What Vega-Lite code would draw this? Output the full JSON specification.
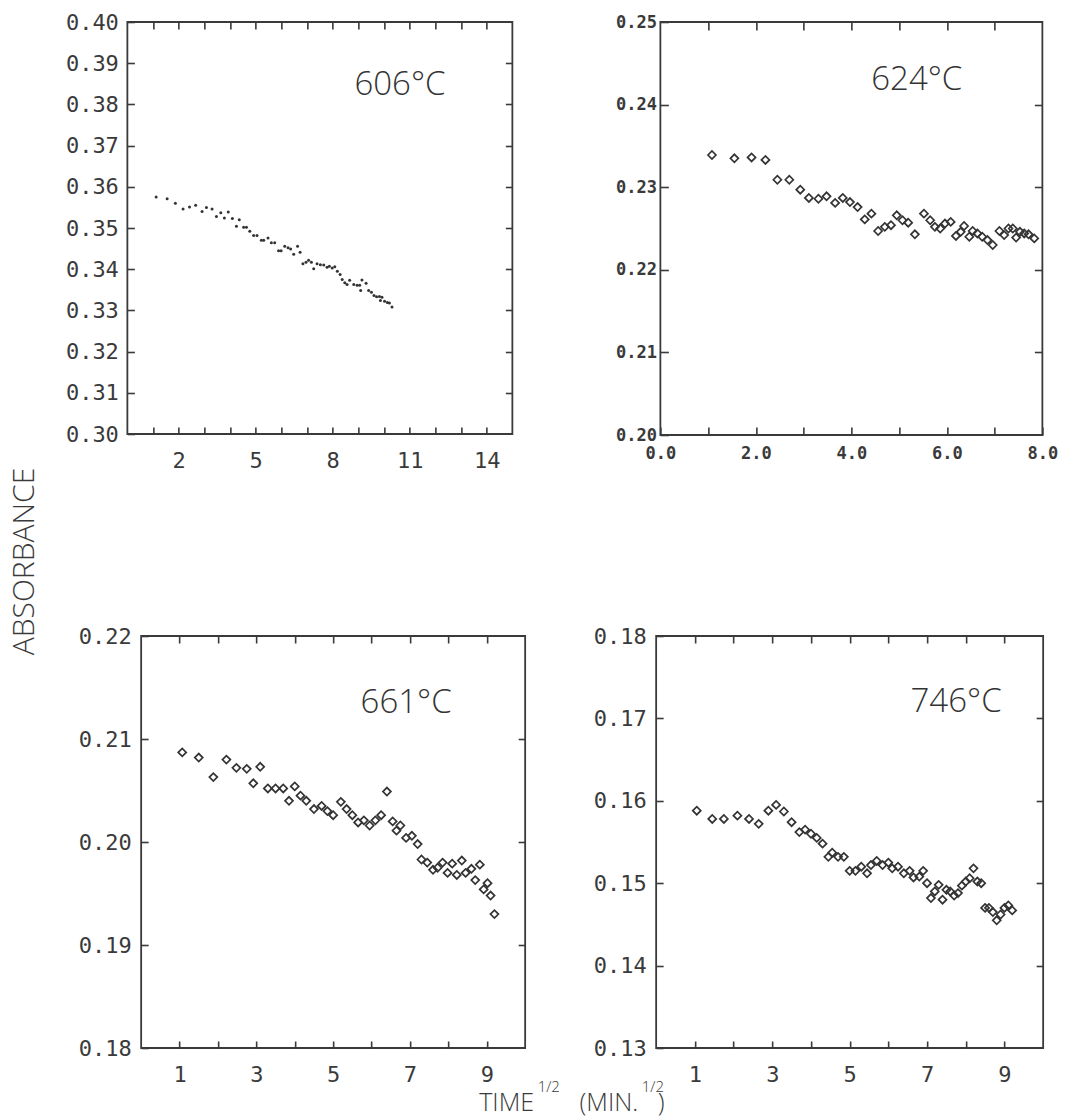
{
  "$schema": "https://vega.github.io/schema/vega-lite/v6.json",
  "padding": {"left": 10, "top": 7, "right": 0, "bottom": 0},
  "background": "white",
  "title": {"text": "ABSORBANCE", "orient": "left", "anchor": "middle", "offset": 16, "font": "Open Sans", "fontSize": 30, "fontWeight": 300, "color": "#3a3a3a"},
  "datasets": {
    "d606": [
      {"t":1.12,"a":0.3575},{"t":1.55,"a":0.3571},{"t":1.87,"a":0.3560},{"t":2.17,"a":0.3546},{"t":2.42,"a":0.3551},{"t":2.66,"a":0.3555},{"t":2.91,"a":0.3540},{"t":3.08,"a":0.3550},{"t":3.30,"a":0.3546},{"t":3.47,"a":0.3528},{"t":3.64,"a":0.3537},{"t":3.78,"a":0.3524},{"t":3.93,"a":0.3539},{"t":4.09,"a":0.3523},{"t":4.25,"a":0.3504},{"t":4.36,"a":0.3520},{"t":4.53,"a":0.3502},{"t":4.64,"a":0.3502},{"t":4.77,"a":0.3492},{"t":4.92,"a":0.3482},{"t":5.05,"a":0.3482},{"t":5.22,"a":0.3470},{"t":5.31,"a":0.3470},{"t":5.48,"a":0.3476},{"t":5.61,"a":0.3464},{"t":5.74,"a":0.3464},{"t":5.89,"a":0.3445},{"t":5.99,"a":0.3445},{"t":6.13,"a":0.3456},{"t":6.26,"a":0.3452},{"t":6.36,"a":0.3449},{"t":6.48,"a":0.3436},{"t":6.63,"a":0.3456},{"t":6.73,"a":0.3441},{"t":6.84,"a":0.3413},{"t":6.96,"a":0.3417},{"t":7.06,"a":0.3422},{"t":7.17,"a":0.3417},{"t":7.26,"a":0.3401},{"t":7.39,"a":0.3413},{"t":7.52,"a":0.3411},{"t":7.65,"a":0.3410},{"t":7.78,"a":0.3405},{"t":7.87,"a":0.3407},{"t":7.98,"a":0.3403},{"t":8.08,"a":0.3406},{"t":8.18,"a":0.3395},{"t":8.29,"a":0.3387},{"t":8.37,"a":0.3375},{"t":8.47,"a":0.3367},{"t":8.56,"a":0.3363},{"t":8.66,"a":0.3373},{"t":8.82,"a":0.3363},{"t":8.95,"a":0.3361},{"t":9.05,"a":0.3361},{"t":9.09,"a":0.3348},{"t":9.14,"a":0.3374},{"t":9.30,"a":0.3366},{"t":9.40,"a":0.3348},{"t":9.51,"a":0.3344},{"t":9.61,"a":0.3336},{"t":9.71,"a":0.3333},{"t":9.82,"a":0.3334},{"t":9.86,"a":0.3324},{"t":9.92,"a":0.3332},{"t":10.02,"a":0.3322},{"t":10.13,"a":0.3319},{"t":10.21,"a":0.3318},{"t":10.31,"a":0.3308}
    ],
    "d624": [
      {"t":1.08,"a":0.2339},{"t":1.55,"a":0.2335},{"t":1.91,"a":0.2336},{"t":2.20,"a":0.2333},{"t":2.45,"a":0.2309},{"t":2.70,"a":0.2309},{"t":2.93,"a":0.2297},{"t":3.11,"a":0.2287},{"t":3.31,"a":0.2286},{"t":3.48,"a":0.2289},{"t":3.66,"a":0.2281},{"t":3.82,"a":0.2287},{"t":3.97,"a":0.2282},{"t":4.13,"a":0.2276},{"t":4.28,"a":0.2261},{"t":4.42,"a":0.2268},{"t":4.56,"a":0.2247},{"t":4.70,"a":0.2252},{"t":4.83,"a":0.2254},{"t":4.95,"a":0.2266},{"t":5.07,"a":0.2260},{"t":5.19,"a":0.2257},{"t":5.33,"a":0.2243},{"t":5.52,"a":0.2268},{"t":5.65,"a":0.2260},{"t":5.75,"a":0.2252},{"t":5.86,"a":0.2250},{"t":5.96,"a":0.2256},{"t":6.08,"a":0.2258},{"t":6.19,"a":0.2241},{"t":6.29,"a":0.2246},{"t":6.36,"a":0.2253},{"t":6.47,"a":0.2240},{"t":6.54,"a":0.2247},{"t":6.64,"a":0.2244},{"t":6.74,"a":0.2240},{"t":6.85,"a":0.2236},{"t":6.96,"a":0.2230},{"t":7.10,"a":0.2247},{"t":7.20,"a":0.2242},{"t":7.29,"a":0.2250},{"t":7.38,"a":0.2250},{"t":7.45,"a":0.2239},{"t":7.53,"a":0.2246},{"t":7.62,"a":0.2244},{"t":7.71,"a":0.2243},{"t":7.83,"a":0.2238}
    ],
    "d661": [
      {"t":1.07,"a":0.2087},{"t":1.50,"a":0.2082},{"t":1.88,"a":0.2063},{"t":2.22,"a":0.2080},{"t":2.48,"a":0.2072},{"t":2.75,"a":0.2071},{"t":2.92,"a":0.2057},{"t":3.10,"a":0.2073},{"t":3.30,"a":0.2052},{"t":3.50,"a":0.2052},{"t":3.70,"a":0.2052},{"t":3.85,"a":0.2040},{"t":4.00,"a":0.2054},{"t":4.15,"a":0.2045},{"t":4.30,"a":0.2040},{"t":4.50,"a":0.2032},{"t":4.70,"a":0.2035},{"t":4.85,"a":0.2030},{"t":5.00,"a":0.2026},{"t":5.20,"a":0.2039},{"t":5.35,"a":0.2032},{"t":5.50,"a":0.2026},{"t":5.65,"a":0.2019},{"t":5.80,"a":0.2021},{"t":5.95,"a":0.2016},{"t":6.10,"a":0.2021},{"t":6.25,"a":0.2026},{"t":6.40,"a":0.2049},{"t":6.55,"a":0.2020},{"t":6.65,"a":0.2011},{"t":6.75,"a":0.2016},{"t":6.90,"a":0.2004},{"t":7.05,"a":0.2006},{"t":7.20,"a":0.1998},{"t":7.30,"a":0.1983},{"t":7.45,"a":0.1980},{"t":7.60,"a":0.1973},{"t":7.72,"a":0.1975},{"t":7.85,"a":0.1980},{"t":7.98,"a":0.1970},{"t":8.10,"a":0.1979},{"t":8.22,"a":0.1968},{"t":8.35,"a":0.1982},{"t":8.45,"a":0.1970},{"t":8.60,"a":0.1974},{"t":8.70,"a":0.1963},{"t":8.82,"a":0.1978},{"t":8.92,"a":0.1954},{"t":9.02,"a":0.1960},{"t":9.10,"a":0.1948},{"t":9.20,"a":0.1930}
    ],
    "d746": [
      {"t":1.05,"a":0.1588},{"t":1.45,"a":0.1578},{"t":1.75,"a":0.1578},{"t":2.10,"a":0.1582},{"t":2.40,"a":0.1578},{"t":2.65,"a":0.1572},{"t":2.90,"a":0.1588},{"t":3.10,"a":0.1595},{"t":3.30,"a":0.1587},{"t":3.50,"a":0.1574},{"t":3.70,"a":0.1562},{"t":3.85,"a":0.1565},{"t":4.00,"a":0.1560},{"t":4.15,"a":0.1555},{"t":4.30,"a":0.1548},{"t":4.45,"a":0.1532},{"t":4.55,"a":0.1537},{"t":4.70,"a":0.1532},{"t":4.85,"a":0.1532},{"t":5.00,"a":0.1515},{"t":5.15,"a":0.1515},{"t":5.30,"a":0.1520},{"t":5.45,"a":0.1512},{"t":5.55,"a":0.1522},{"t":5.70,"a":0.1527},{"t":5.85,"a":0.1522},{"t":6.00,"a":0.1525},{"t":6.10,"a":0.1518},{"t":6.25,"a":0.1520},{"t":6.40,"a":0.1512},{"t":6.55,"a":0.1515},{"t":6.65,"a":0.1507},{"t":6.80,"a":0.1508},{"t":6.90,"a":0.1515},{"t":7.00,"a":0.1500},{"t":7.10,"a":0.1482},{"t":7.20,"a":0.1490},{"t":7.30,"a":0.1498},{"t":7.40,"a":0.1480},{"t":7.50,"a":0.1492},{"t":7.60,"a":0.1490},{"t":7.70,"a":0.1485},{"t":7.80,"a":0.1488},{"t":7.90,"a":0.1497},{"t":8.00,"a":0.1502},{"t":8.10,"a":0.1506},{"t":8.20,"a":0.1518},{"t":8.30,"a":0.1502},{"t":8.40,"a":0.1500},{"t":8.50,"a":0.1470},{"t":8.60,"a":0.1470},{"t":8.70,"a":0.1465},{"t":8.80,"a":0.1455},{"t":8.90,"a":0.1462},{"t":9.00,"a":0.1470},{"t":9.10,"a":0.1473},{"t":9.20,"a":0.1467}
    ]
  },
  "spacing": 140,
  "center": true,
  "vconcat": [
    {
      "spacing": 20,
      "hconcat": [
        {
          "width": 385, "height": 412,
          "layer": [
            {
              "data": {"name": "d606"},
              "mark": {"type": "point", "shape": "circle", "filled": true, "size": 9, "color": "#333", "opacity": 1},
              "encoding": {
                "x": {"field": "t", "type": "quantitative", "scale": {"domain": [0, 15], "nice": false, "zero": false},
                      "axis": {"orient": "bottom", "title": null, "values": [1,2,3,4,5,6,7,8,9,10,11,12,13,14], "labelExpr": "indexof([2,5,8,11,14], datum.value) >= 0 ? datum.label : ''", "tickSize": -7, "labelPadding": 23, "labelFont": "DejaVu Sans Mono", "labelFontSize": 22, "labelFlush": false, "labelOverlap": false, "minExtent": 45, "maxExtent": 45}},
                "y": {"field": "a", "type": "quantitative", "scale": {"domain": [0.30, 0.40], "nice": false, "zero": false},
                      "axis": {"orient": "left", "title": null, "values": [0.30,0.31,0.32,0.33,0.34,0.35,0.36,0.37,0.38,0.39,0.40], "format": ".2f", "tickSize": -7, "labelPadding": 16, "labelFont": "DejaVu Sans Mono", "labelFontSize": 22, "labelFlush": false, "labelOverlap": false, "minExtent": 70, "maxExtent": 70}}
              }
            },
            {
              "data": {"values": [{"label": "606°C"}]},
              "mark": {"type": "text", "font": "Open Sans", "fontSize": 33, "fontWeight": 300, "color": "#333", "align": "center", "baseline": "middle"},
              "encoding": {
                "x": {"datum": 10.62, "type": "quantitative", "scale": {"domain": [0, 15], "nice": false, "zero": false},
                      "axis": {"orient": "top", "title": null, "labels": false, "values": [1,2,3,4,5,6,7,8,9,10,11,12,13,14], "tickSize": -7, "minExtent": 14, "maxExtent": 14}},
                "y": {"datum": 0.3848, "type": "quantitative", "scale": {"domain": [0.30, 0.40], "nice": false, "zero": false},
                      "axis": {"orient": "right", "title": null, "labels": false, "values": [0.31,0.32,0.33,0.34,0.35,0.36,0.37,0.38,0.39], "tickSize": -7, "minExtent": 0, "maxExtent": 0}},
                "text": {"field": "label"}
              }
            }
          ],
          "resolve": {"axis": {"x": "independent", "y": "independent"}}
        },
        {
          "width": 382, "height": 413,
          "layer": [
            {
              "data": {"name": "d624"},
              "mark": {"type": "point", "shape": "diamond", "filled": false, "size": 64, "strokeWidth": 1.7, "color": "#333", "opacity": 1},
              "encoding": {
                "x": {"field": "t", "type": "quantitative", "scale": {"domain": [0, 8], "nice": false, "zero": false},
                      "axis": {"orient": "bottom", "title": null, "values": [0,1,2,3,4,5,6,7,8], "format": ".1f", "labelExpr": "datum.value % 2 == 0 ? datum.label : ''", "tickSize": -8, "labelPadding": 18, "labelFont": "DejaVu Sans Mono", "labelFontSize": 17, "labelFontWeight": "bold", "labelFlush": false, "labelOverlap": false, "minExtent": 45, "maxExtent": 45}},
                "y": {"field": "a", "type": "quantitative", "scale": {"domain": [0.20, 0.25], "nice": false, "zero": false},
                      "axis": {"orient": "left", "title": null, "values": [0.20,0.21,0.22,0.23,0.24,0.25], "format": ".2f", "tickSize": -8, "labelPadding": 12, "labelFont": "DejaVu Sans Mono", "labelFontSize": 17, "labelFontWeight": "bold", "labelFlush": false, "labelOverlap": false, "minExtent": 125, "maxExtent": 125}}
              }
            },
            {
              "data": {"values": [{"label": "624°C"}]},
              "mark": {"type": "text", "font": "Open Sans", "fontSize": 33, "fontWeight": 300, "color": "#333", "align": "center", "baseline": "middle"},
              "encoding": {
                "x": {"datum": 5.37, "type": "quantitative", "scale": {"domain": [0, 8], "nice": false, "zero": false},
                      "axis": {"orient": "top", "title": null, "labels": false, "values": [1,2,3,4,5,6,7], "tickSize": -8, "minExtent": 14, "maxExtent": 14}},
                "y": {"datum": 0.2430, "type": "quantitative", "scale": {"domain": [0.20, 0.25], "nice": false, "zero": false},
                      "axis": {"orient": "right", "title": null, "labels": false, "values": [0.21,0.22,0.23,0.24], "tickSize": -8, "minExtent": 0, "maxExtent": 0}},
                "text": {"field": "label"}
              }
            }
          ],
          "resolve": {"axis": {"x": "independent", "y": "independent"}}
        }
      ]
    },
    {
      "spacing": 20,
      "title": {
        "text": "\u200b\u00a0\u00a0\u00a0\u00a0\u00a0\u00a0\u00a0\u00a0\u00a0\u00a0\u00a0\u00a0\u00a0\u00a0\u00a01/2\u00a0\u00a0\u00a0\u00a0\u00a0\u00a0\u00a0\u00a0\u00a0\u00a0\u00a0\u00a0\u00a0\u00a0\u00a0\u00a0\u00a0\u00a0\u00a0\u00a0\u00a01/2",
        "subtitle": "TIME\u00a0\u00a0\u00a0\u00a0\u00a0\u00a0\u00a0(MIN.\u00a0\u00a0\u00a0)",
        "orient": "bottom", "anchor": "start", "align": "left", "dx": 409, "offset": -9,
        "font": "Open Sans", "fontSize": 15, "fontWeight": 300, "color": "#3a3a3a",
        "subtitleFont": "Open Sans", "subtitleFontSize": 25, "subtitleFontWeight": 300, "subtitleColor": "#3a3a3a", "subtitlePadding": -4
      },
      "hconcat": [
        {
          "width": 384, "height": 412,
          "layer": [
            {
              "data": {"name": "d661"},
              "mark": {"type": "point", "shape": "diamond", "filled": false, "size": 64, "strokeWidth": 1.7, "color": "#333", "opacity": 1},
              "encoding": {
                "x": {"field": "t", "type": "quantitative", "scale": {"domain": [0, 10], "nice": false, "zero": false},
                      "axis": {"orient": "bottom", "title": null, "values": [1,2,3,4,5,6,7,8,9], "labelExpr": "datum.value % 2 == 1 ? datum.label : ''", "tickSize": -7, "labelPadding": 23, "labelFont": "DejaVu Sans Mono", "labelFontSize": 22, "labelFlush": false, "labelOverlap": false, "minExtent": 40, "maxExtent": 40}},
                "y": {"field": "a", "type": "quantitative", "scale": {"domain": [0.18, 0.22], "nice": false, "zero": false},
                      "axis": {"orient": "left", "title": null, "values": [0.18,0.19,0.20,0.21,0.22], "format": ".2f", "tickSize": -7, "labelPadding": 17, "labelFont": "DejaVu Sans Mono", "labelFontSize": 22, "labelFlush": false, "labelOverlap": false, "minExtent": 70, "maxExtent": 70}}
              }
            },
            {
              "data": {"values": [{"label": "661°C"}]},
              "mark": {"type": "text", "font": "Open Sans", "fontSize": 33, "fontWeight": 300, "color": "#333", "align": "center", "baseline": "middle"},
              "encoding": {
                "x": {"datum": 6.9, "type": "quantitative", "scale": {"domain": [0, 10], "nice": false, "zero": false},
                      "axis": {"orient": "top", "title": null, "labels": false, "values": [1,2,3,4,5,6,7,8,9], "tickSize": -7, "minExtent": 14, "maxExtent": 14}},
                "y": {"datum": 0.2135, "type": "quantitative", "scale": {"domain": [0.18, 0.22], "nice": false, "zero": false},
                      "axis": {"orient": "right", "title": null, "labels": false, "values": [0.19,0.20,0.21], "tickSize": -7, "minExtent": 0, "maxExtent": 0}},
                "text": {"field": "label"}
              }
            }
          ],
          "resolve": {"axis": {"x": "independent", "y": "independent"}}
        },
        {
          "width": 387, "height": 412,
          "layer": [
            {
              "data": {"name": "d746"},
              "mark": {"type": "point", "shape": "diamond", "filled": false, "size": 64, "strokeWidth": 1.7, "color": "#333", "opacity": 1},
              "encoding": {
                "x": {"field": "t", "type": "quantitative", "scale": {"domain": [0, 10], "nice": false, "zero": false},
                      "axis": {"orient": "bottom", "title": null, "values": [1,2,3,4,5,6,7,8,9], "labelExpr": "datum.value % 2 == 1 ? datum.label : ''", "tickSize": -7, "labelPadding": 23, "labelFont": "DejaVu Sans Mono", "labelFontSize": 22, "labelFlush": false, "labelOverlap": false, "minExtent": 40, "maxExtent": 40}},
                "y": {"field": "a", "type": "quantitative", "scale": {"domain": [0.13, 0.18], "nice": false, "zero": false},
                      "axis": {"orient": "left", "title": null, "values": [0.13,0.14,0.15,0.16,0.17,0.18], "format": ".2f", "tickSize": -7, "labelPadding": 17, "labelFont": "DejaVu Sans Mono", "labelFontSize": 22, "labelFlush": false, "labelOverlap": false, "minExtent": 108, "maxExtent": 108}}
              }
            },
            {
              "data": {"values": [{"label": "746°C"}]},
              "mark": {"type": "text", "font": "Open Sans", "fontSize": 33, "fontWeight": 300, "color": "#333", "align": "center", "baseline": "middle"},
              "encoding": {
                "x": {"datum": 7.75, "type": "quantitative", "scale": {"domain": [0, 10], "nice": false, "zero": false},
                      "axis": {"orient": "top", "title": null, "labels": false, "values": [1,2,3,4,5,6,7,8,9], "tickSize": -7, "minExtent": 14, "maxExtent": 14}},
                "y": {"datum": 0.172, "type": "quantitative", "scale": {"domain": [0.13, 0.18], "nice": false, "zero": false},
                      "axis": {"orient": "right", "title": null, "labels": false, "values": [0.14,0.15,0.16,0.17], "tickSize": -7, "minExtent": 0, "maxExtent": 0}},
                "text": {"field": "label"}
              }
            }
          ],
          "resolve": {"axis": {"x": "independent", "y": "independent"}}
        }
      ]
    }
  ],
  "config": {
    "view": {"stroke": "#3a3a3a", "strokeWidth": 1.8},
    "axis": {"domain": false, "grid": false, "tickColor": "#3a3a3a", "tickWidth": 1.6, "labelColor": "#3a3a3a"}
  }
}
